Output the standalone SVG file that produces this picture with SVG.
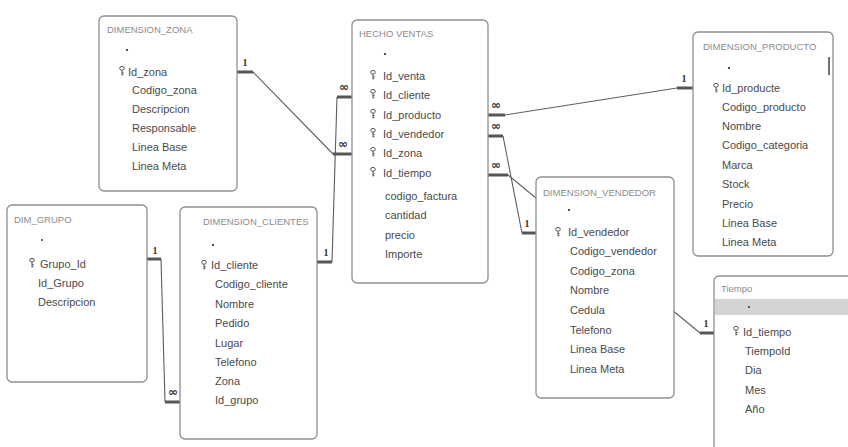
<svg xmlns="http://www.w3.org/2000/svg" width="848" height="447" viewBox="0 0 848 447">
  <style>
    .tbl { fill: #ffffff; stroke: #8e8e8e; stroke-width: 1.3; }
    .ttl { font-family: "Liberation Sans", Arial, sans-serif; font-size: 9.5px; fill: #8c8c8c; }
    .fld { font-family: "Liberation Sans", Arial, sans-serif; font-size: 11px; fill: #4a4a4a; }
    .dot { fill: #222; }
    .rel { fill: none; stroke: #5e5e5e; stroke-width: 1.1; }
    .stub { fill: none; stroke: #555; stroke-width: 3; }
    .card { font-family: "Liberation Serif", "Times New Roman", serif; font-size: 10px; font-weight: bold; fill: #333; text-anchor: middle; }
    .inf { font-family: "DejaVu Sans", sans-serif; font-size: 12px; font-weight: bold; fill: #333; text-anchor: middle; }
  </style>
  <defs>
    <!-- primary-key glyph -->
    <symbol id="key" viewBox="0 0 6 10" width="6" height="10">
      <ellipse cx="3" cy="2.3" rx="2.3" ry="1.9" fill="none" stroke="#555" stroke-width="1"/>
      <path d="M3 4.2 V9.5 M3 6.6 H4.6 M3 8.4 H4.4" fill="none" stroke="#555" stroke-width="1"/>
    </symbol>
  </defs>

  <rect width="848" height="447" fill="#ffffff"/>

  <!-- relationship lines -->
  <g id="connectors">
    <!-- DIM_GRUPO -> DIMENSION_CLIENTES -->
    <line class="stub" x1="147" y1="259" x2="161" y2="259"/>
    <polyline class="rel" points="161,259 165,402"/>
    <line class="stub" x1="165" y1="402" x2="181" y2="402"/>
    <text class="card" x="155" y="254">1</text>
    <text class="inf" x="173" y="396">∞</text>

    <!-- DIMENSION_CLIENTES -> HECHO VENTAS -->
    <line class="stub" x1="317" y1="262" x2="332" y2="262"/>
    <polyline class="rel" points="332,262 337,97"/>
    <line class="stub" x1="337" y1="97" x2="352" y2="97"/>
    <text class="card" x="326" y="256">1</text>
    <text class="inf" x="344" y="91">∞</text>

    <!-- DIMENSION_ZONA -> HECHO VENTAS -->
    <line class="stub" x1="237" y1="72" x2="253" y2="72"/>
    <polyline class="rel" points="253,72 333,154"/>
    <line class="stub" x1="333" y1="154" x2="352" y2="154"/>
    <text class="card" x="245" y="66">1</text>
    <text class="inf" x="343" y="148">∞</text>

    <!-- HECHO VENTAS -> DIMENSION_PRODUCTO -->
    <line class="stub" x1="488" y1="115" x2="505" y2="115"/>
    <polyline class="rel" points="505,115 677,88"/>
    <line class="stub" x1="677" y1="88" x2="693" y2="88"/>
    <text class="inf" x="496" y="109">∞</text>
    <text class="card" x="684" y="82">1</text>

    <!-- HECHO VENTAS -> DIMENSION_VENDEDOR -->
    <line class="stub" x1="488" y1="136" x2="503" y2="136"/>
    <polyline class="rel" points="503,136 522,233"/>
    <line class="stub" x1="522" y1="233" x2="537" y2="233"/>
    <text class="inf" x="496" y="130">∞</text>
    <text class="card" x="527" y="227">1</text>

    <!-- HECHO VENTAS -> Tiempo (runs behind DIMENSION_VENDEDOR) -->
    <line class="stub" x1="488" y1="175" x2="508" y2="175"/>
    <polyline class="rel" points="508,175 700,333"/>
    <line class="stub" x1="700" y1="333" x2="714" y2="333"/>
    <text class="inf" x="496" y="169">∞</text>
    <text class="card" x="706" y="327">1</text>
  </g>

  <!-- DIMENSION_ZONA -->
  <g id="dimension_zona">
    <rect class="tbl" x="99" y="16" width="138" height="175" rx="5"/>
    <text class="ttl" x="107" y="33">DIMENSION_ZONA</text>
    <circle class="dot" cx="127" cy="50" r="1.1"/>
    <use href="#key" x="119" y="66"/>
    <text class="fld" x="128" y="76">Id_zona</text>
    <text class="fld" x="132" y="94">Codigo_zona</text>
    <text class="fld" x="132" y="113">Descripcion</text>
    <text class="fld" x="132" y="132">Responsable</text>
    <text class="fld" x="132" y="151">Linea Base</text>
    <text class="fld" x="132" y="170">Linea Meta</text>
  </g>

  <!-- HECHO VENTAS -->
  <g id="hecho_ventas">
    <rect class="tbl" x="352" y="20" width="136" height="263" rx="5"/>
    <text class="ttl" x="359" y="37">HECHO VENTAS</text>
    <circle class="dot" cx="385" cy="54" r="1.1"/>
    <use href="#key" x="370" y="70"/>
    <text class="fld" x="383" y="80">Id_venta</text>
    <use href="#key" x="370" y="89"/>
    <text class="fld" x="383" y="99">Id_cliente</text>
    <use href="#key" x="370" y="109"/>
    <text class="fld" x="383" y="119">Id_producto</text>
    <use href="#key" x="370" y="128"/>
    <text class="fld" x="383" y="138">Id_vendedor</text>
    <use href="#key" x="370" y="147"/>
    <text class="fld" x="383" y="157">Id_zona</text>
    <use href="#key" x="370" y="167"/>
    <text class="fld" x="383" y="177">Id_tiempo</text>
    <text class="fld" x="385" y="200">codigo_factura</text>
    <text class="fld" x="385" y="219">cantidad</text>
    <text class="fld" x="385" y="239">precio</text>
    <text class="fld" x="385" y="258">Importe</text>
  </g>

  <!-- DIMENSION_PRODUCTO -->
  <g id="dimension_producto">
    <rect class="tbl" x="693" y="32" width="140" height="224" rx="5"/>
    <text class="ttl" x="703" y="50">DIMENSION_PRODUCTO</text>
    <line x1="829" y1="57" x2="829" y2="75" stroke="#444" stroke-width="1.5"/>
    <circle class="dot" cx="729" cy="68" r="1.1"/>
    <use href="#key" x="713" y="83"/>
    <text class="fld" x="722" y="92">Id_producte</text>
    <text class="fld" x="722" y="111">Codigo_producto</text>
    <text class="fld" x="722" y="130">Nombre</text>
    <text class="fld" x="722" y="149">Codigo_categoria</text>
    <text class="fld" x="722" y="169">Marca</text>
    <text class="fld" x="722" y="188">Stock</text>
    <text class="fld" x="722" y="208">Precio</text>
    <text class="fld" x="722" y="227">Linea Base</text>
    <text class="fld" x="722" y="246">Linea Meta</text>
  </g>

  <!-- DIM_GRUPO -->
  <g id="dim_grupo">
    <rect class="tbl" x="7" y="205" width="140" height="177" rx="5"/>
    <text class="ttl" x="14" y="223">DIM_GRUPO</text>
    <circle class="dot" cx="42" cy="240" r="0.9"/>
    <use href="#key" x="29" y="258"/>
    <text class="fld" x="40" y="268">Grupo_Id</text>
    <text class="fld" x="38" y="287">Id_Grupo</text>
    <text class="fld" x="38" y="306">Descripcion</text>
  </g>

  <!-- DIMENSION_CLIENTES -->
  <g id="dimension_clientes">
    <rect class="tbl" x="180" y="207" width="137" height="232" rx="5"/>
    <text class="ttl" x="203" y="225">DIMENSION_CLIENTES</text>
    <circle class="dot" cx="213" cy="245" r="1.1"/>
    <use href="#key" x="201" y="260"/>
    <text class="fld" x="211" y="269">Id_cliente</text>
    <text class="fld" x="215" y="288">Codigo_cliente</text>
    <text class="fld" x="215" y="308">Nombre</text>
    <text class="fld" x="215" y="327">Pedido</text>
    <text class="fld" x="215" y="347">Lugar</text>
    <text class="fld" x="215" y="366">Telefono</text>
    <text class="fld" x="215" y="385">Zona</text>
    <text class="fld" x="215" y="404">Id_grupo</text>
  </g>

  <!-- DIMENSION_VENDEDOR -->
  <g id="dimension_vendedor">
    <rect class="tbl" x="536" y="177" width="138" height="221" rx="5"/>
    <text class="ttl" x="543" y="196">DIMENSION_VENDEDOR</text>
    <circle class="dot" cx="569" cy="210" r="1.1"/>
    <use href="#key" x="555" y="227"/>
    <text class="fld" x="568" y="236">Id_vendedor</text>
    <text class="fld" x="570" y="255">Codigo_vendedor</text>
    <text class="fld" x="570" y="275">Codigo_zona</text>
    <text class="fld" x="570" y="294">Nombre</text>
    <text class="fld" x="570" y="314">Cedula</text>
    <text class="fld" x="570" y="334">Telefono</text>
    <text class="fld" x="570" y="353">Linea Base</text>
    <text class="fld" x="570" y="373">Linea Meta</text>
  </g>

  <!-- Tiempo -->
  <g id="tiempo">
    <rect class="tbl" x="714" y="276" width="150" height="190" rx="5"/>
    <text class="ttl" x="721" y="292">Tiempo</text>
    <rect x="715" y="299" width="133" height="16" fill="#d4d4d4"/>
    <circle class="dot" cx="749" cy="307" r="0.9"/>
    <use href="#key" x="733" y="326"/>
    <text class="fld" x="743" y="336">Id_tiempo</text>
    <text class="fld" x="745" y="355">TiempoId</text>
    <text class="fld" x="745" y="374">Dia</text>
    <text class="fld" x="745" y="394">Mes</text>
    <text class="fld" x="745" y="413">Año</text>
  </g>
</svg>
